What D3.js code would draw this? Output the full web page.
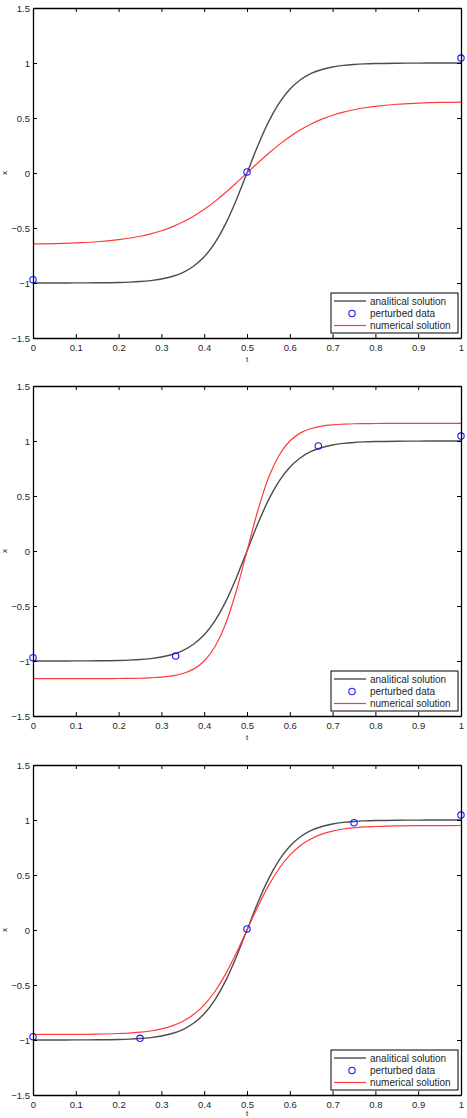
<!DOCTYPE html>
<html><head><meta charset="utf-8">
<script src="https://cdn.jsdelivr.net/npm/d3@7"></script>
<style>html,body{margin:0;padding:0;background:#fff;}svg{display:block;}</style>
</head><body>
<svg id="c" width="467" height="1118"></svg>
<script>
const tGrid = [0,0.05,0.1,0.15,0.2,0.225,0.25,0.275,0.3,0.325,0.35,0.375,0.4,0.425,0.45,0.475,0.5,0.525,0.55,0.575,0.6,0.625,0.65,0.675,0.7,0.725,0.75,0.775,0.8,0.85,0.9,0.95,1];
const analytical = [-1.000,-1.000,-0.999,-0.998,-0.995,-0.992,-0.987,-0.978,-0.964,-0.941,-0.905,-0.848,-0.762,-0.635,-0.462,-0.245,0,0.245,0.462,0.635,0.762,0.848,0.905,0.941,0.964,0.978,0.987,0.992,0.995,0.998,0.999,1.000,1.000];
const numerical1 = [-0.645,-0.642,-0.635,-0.625,-0.606,-0.593,-0.575,-0.553,-0.525,-0.490,-0.446,-0.393,-0.330,-0.258,-0.177,-0.090,0,0.090,0.177,0.258,0.330,0.393,0.446,0.490,0.525,0.553,0.575,0.593,0.606,0.625,0.635,0.642,0.645];
const numerical2 = [-1.160,-1.160,-1.160,-1.160,-1.159,-1.158,-1.157,-1.153,-1.147,-1.136,-1.114,-1.074,-1.000,-0.871,-0.663,-0.364,0,0.364,0.663,0.871,1.000,1.074,1.114,1.136,1.147,1.153,1.157,1.158,1.159,1.160,1.160,1.160,1.160];
const numerical3 = [-0.950,-0.949,-0.949,-0.947,-0.941,-0.937,-0.929,-0.918,-0.899,-0.872,-0.830,-0.769,-0.680,-0.559,-0.401,-0.210,0,0.210,0.401,0.559,0.680,0.769,0.830,0.872,0.899,0.918,0.929,0.937,0.941,0.947,0.949,0.949,0.950];
const dataT1 = [0,0.5,1];
const dataX1 = [-0.97,0.01,1.045];
const dataT2 = [0,0.3333,0.6667,1];
const dataX2 = [-0.97,-0.955,0.955,1.045];
const dataT3 = [0,0.25,0.5,0.75,1];
const dataX3 = [-0.97,-0.985,0.01,0.975,1.045];
const xTicks = [0,0.1,0.2,0.3,0.4,0.5,0.6,0.7,0.8,0.9,1];
const yTicks = [-1.5,-1,-0.5,0,0.5,1,1.5];
const legendLabels = ["analitical solution","perturbed data","numerical solution"];
const xLabel = "t", yLabel = "x";

const panels = [
  {top:8, num:numerical1, dt:dataT1, dx:dataX1},
  {top:386, num:numerical2, dt:dataT2, dx:dataX2},
  {top:765, num:numerical3, dt:dataT3, dx:dataX3}
];
const L = 33, R = 461, H = 330;
const svg = d3.select("#c");
const font = "'Liberation Sans', Arial, sans-serif";
const x = d3.scaleLinear().domain([0,1]).range([L,R]);
const fmt = d3.format("");
const blackCol = "#4d4d4d", redCol = "#ff3b3b", blueCol = "#1a1aff";

panels.forEach(p => {
  const y = d3.scaleLinear().domain([-1.5,1.5]).range([p.top+H, p.top]);
  const g = svg.append("g");
  const analyticalPts = tGrid.map((t,i)=>[t,analytical[i]]);
  const numPts = tGrid.map((t,i)=>[t,p.num[i]]);
  const line = d3.line().x(d=>x(d[0])).y(d=>y(d[1])).curve(d3.curveMonotoneX);
  g.append("path").attr("d", line(analyticalPts)).attr("fill","none").attr("stroke",blackCol).attr("stroke-width",1.4);
  g.append("path").attr("d", line(numPts)).attr("fill","none").attr("stroke",redCol).attr("stroke-width",1.2);
  g.selectAll("circle.d").data(p.dt.map((t,i)=>[t,p.dx[i]])).enter().append("circle")
    .attr("cx",d=>x(d[0])).attr("cy",d=>y(d[1])).attr("r",3.2)
    .attr("fill","none").attr("stroke",blueCol).attr("stroke-width",1.1);

  const axB = d3.axisBottom(x).tickValues(xTicks).tickFormat(fmt).tickSizeInner(-4).tickSizeOuter(0).tickPadding(6);
  const axT = d3.axisTop(x).tickValues(xTicks).tickFormat("").tickSizeInner(-4).tickSizeOuter(0);
  const axL = d3.axisLeft(y).tickValues(yTicks).tickFormat(fmt).tickSizeInner(-4).tickSizeOuter(0).tickPadding(3);
  const axR = d3.axisRight(y).tickValues(yTicks).tickFormat("").tickSizeInner(-4).tickSizeOuter(0);
  [[axB,`translate(0,${p.top+H})`],[axT,`translate(0,${p.top})`],[axL,`translate(${L},0)`],[axR,`translate(${R},0)`]].forEach(([ax,tr])=>{
    const a = g.append("g").attr("transform",tr).call(ax);
    a.select(".domain").attr("stroke","#000").attr("stroke-width",1.3);
    a.selectAll(".tick line").attr("stroke","#000").attr("stroke-width",1);
    a.selectAll("text").attr("font-family",font).attr("font-size",9.5).attr("fill","#262626");
  });
  g.append("text").attr("x",(L+R)/2).attr("y",Math.min(p.top+H+24,1116)).attr("text-anchor","middle")
    .attr("font-family",font).attr("font-size",8).attr("fill","#262626").text(xLabel);
  g.append("text").attr("transform",`translate(7,${p.top+H/2}) rotate(-90)`).attr("text-anchor","middle")
    .attr("font-family",font).attr("font-size",8).attr("fill","#262626").text(yLabel);

  const lx = 331, ly = p.top+H-45, lw = 127, lh = 40;
  const lg = g.append("g");
  lg.append("rect").attr("x",lx).attr("y",ly).attr("width",lw).attr("height",lh)
    .attr("fill","#fff").attr("stroke","#000").attr("stroke-width",1);
  const rows = [8,20.5,32.5];
  lg.append("line").attr("x1",lx+3).attr("x2",lx+35).attr("y1",ly+rows[0]).attr("y2",ly+rows[0]).attr("stroke",blackCol).attr("stroke-width",1.4);
  lg.append("circle").attr("cx",lx+21).attr("cy",ly+rows[1]).attr("r",3.2).attr("fill","none").attr("stroke",blueCol).attr("stroke-width",1.1);
  lg.append("line").attr("x1",lx+3).attr("x2",lx+35).attr("y1",ly+rows[2]).attr("y2",ly+rows[2]).attr("stroke",redCol).attr("stroke-width",1.2);
  legendLabels.forEach((s,i)=>{
    lg.append("text").attr("x",lx+39).attr("y",ly+rows[i]).attr("dy","0.35em")
      .attr("font-family",font).attr("font-size",10).attr("fill","#262626").text(s);
  });
});
</script>
</body></html>
